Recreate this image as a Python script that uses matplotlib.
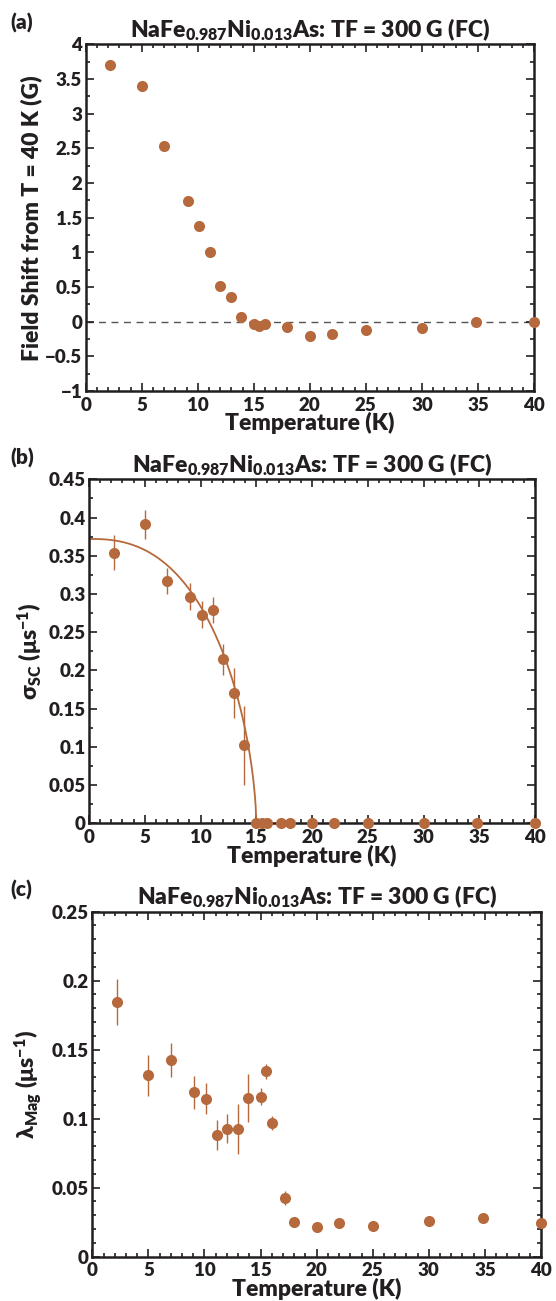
import matplotlib
matplotlib.use("Agg")
import matplotlib.pyplot as plt
import numpy as np
from matplotlib.ticker import MultipleLocator

# temperature points (K)
temp_a = [2.2, 5.0, 7.0, 9.1, 10.1, 11.1, 12.0, 13.0, 13.9, 15.0, 15.5, 16.0,
          18.0, 20.0, 22.0, 25.0, 30.0, 34.8, 40.0]
temp_bc = [2.2, 5.0, 7.0, 9.1, 10.1, 11.1, 12.0, 13.0, 13.9, 15.0, 15.5, 16.0,
           17.2, 18.0, 20.0, 22.0, 25.0, 30.0, 34.8, 40.0]

# (a) field shift relative to T = 40 K (G)
field_shift = [3.70, 3.40, 2.53, 1.74, 1.385, 1.00, 0.52, 0.35, 0.065, -0.04, -0.06,
               -0.04, -0.08, -0.20, -0.18, -0.12, -0.09, 0.0, 0.0]

# (b) superconducting relaxation rate (us^-1)
sigma_sc = [0.354, 0.391, 0.317, 0.2965, 0.273, 0.279, 0.2145, 0.170, 0.102,
            0, 0, 0, 0, 0, 0, 0, 0, 0, 0, 0]
sigma_err = [0.023, 0.019, 0.0175, 0.0175, 0.018, 0.0166, 0.020, 0.0325, 0.052,
             0, 0, 0, 0, 0, 0, 0, 0, 0, 0, 0]
# fit parameters: sigma0 * (1 - (T/Tc)^alpha)^beta
sigma0, tc, alpha, beta = 0.372, 15.0, 2.5, 0.6

# (c) magnetic relaxation rate (us^-1)
lambda_mag = [0.1846, 0.1314, 0.1423, 0.119, 0.1145, 0.0882, 0.0928, 0.0925, 0.115,
              0.116, 0.1343, 0.0967, 0.0423, 0.0249, 0.0217, 0.0242, 0.0225, 0.0259,
              0.0283, 0.0242]
lambda_err = [0.0167, 0.015, 0.0123, 0.012, 0.0115, 0.011, 0.0103, 0.018, 0.0175,
              0.006, 0.0055, 0.005, 0.005, 0.002, 0.002, 0.002, 0.002, 0.002, 0.002,
              0.002]

brown = "#b5693c"
ink = "#231f20"
plt.rcParams["font.family"] = ["Lato", "DejaVu Sans"]
plt.rcParams["font.weight"] = "heavy"
plt.rcParams["mathtext.fontset"] = "custom"
plt.rcParams["mathtext.rm"] = "Lato:heavy"
plt.rcParams["mathtext.it"] = "Lato:heavy"
plt.rcParams["mathtext.bf"] = "Lato:heavy"
plt.rcParams["mathtext.default"] = "rm"

title = r"NaFe$_{0.987}$Ni$_{0.013}$As: TF = 300 G (FC)"

fig = plt.figure(figsize=(5.56, 13.01), dpi=100)
ax_a = fig.add_axes([0.1541, 0.6995, 0.8063, 0.2663])
ax_b = fig.add_axes([0.1601, 0.3672, 0.8022, 0.2644])
ax_c = fig.add_axes([0.1660, 0.0341, 0.8070, 0.2652])


def style(ax, ymin, ymax, ymajor, yminor):
    ax.set_xlim(0, 40)
    ax.set_ylim(ymin, ymax)
    ax.xaxis.set_major_locator(MultipleLocator(5))
    ax.xaxis.set_minor_locator(MultipleLocator(1))
    ax.yaxis.set_major_locator(MultipleLocator(ymajor))
    ax.yaxis.set_minor_locator(MultipleLocator(yminor))
    ax.tick_params(which="both", direction="in", top=True, right=True, labelsize=13.5,
                   colors=ink)
    ax.tick_params(which="major", length=6, width=1.2)
    ax.tick_params(which="minor", length=3, width=1.2)
    ax.tick_params(axis="x", pad=4.2)
    ax.tick_params(axis="y", pad=2.5)
    for sp in ax.spines.values():
        sp.set_linewidth(1.8)
        sp.set_color(ink)
    ax.set_xlabel("Temperature (K)", fontsize=16.5, fontweight="heavy", labelpad=-1,
                  color=ink)
    ax.set_title(title, fontsize=16.5, fontweight="heavy", pad=5, color=ink)


# (a)
style(ax_a, -1, 4, 0.5, 0.25)
ax_a.axhline(0, color="#555555", lw=1, ls=(0, (5, 4)), zorder=1)
ax_a.plot(temp_a, field_shift, "o", color=brown, ms=8, mec="none", clip_on=False, zorder=3)
ax_a.set_yticks(np.arange(-1, 4.01, 0.5))
ax_a.set_yticklabels(["\u22121", "\u22120.5", "0", "0.5", "1", "1.5", "2", "2.5", "3", "3.5", "4"])
ax_a.set_ylabel("Field Shift from T = 40 K (G)", fontsize=16.5, fontweight="heavy",
                color=ink)
ax_a.yaxis.set_label_coords(-0.098, 0.5)

# (b)
style(ax_b, 0, 0.45, 0.05, 0.025)
ax_b.set_yticks(np.arange(0, 0.451, 0.05))
ax_b.set_yticklabels(["0", "0.05", "0.1", "0.15", "0.2", "0.25", "0.3", "0.35", "0.4", "0.45"])
t_fit = np.linspace(0, tc, 300)
s_fit = sigma0 * (1 - (t_fit / tc) ** alpha) ** beta
ax_b.plot(t_fit, s_fit, color=brown, lw=1.3, zorder=2)
ax_b.errorbar(temp_bc, sigma_sc, yerr=sigma_err, fmt="o", color=brown, ms=8, mec="none",
              ecolor=brown, elinewidth=1, capsize=0, clip_on=False, zorder=3)
ax_b.set_ylabel(r"$\sigma_{SC}$ ($\mu$s$^{-1}$)", fontsize=16.5, fontweight="heavy",
                color=ink)
ax_b.yaxis.set_label_coords(-0.10, 0.5)

# (c)
style(ax_c, 0, 0.25, 0.05, 0.01)
ax_c.set_yticks(np.arange(0, 0.251, 0.05))
ax_c.set_yticklabels(["0", "0.05", "0.1", "0.15", "0.2", "0.25"])
ax_c.errorbar(temp_bc, lambda_mag, yerr=lambda_err, fmt="o", color=brown, ms=8, mec="none",
              ecolor=brown, elinewidth=1, capsize=0, clip_on=False, zorder=3)
ax_c.set_ylabel(r"$\lambda_{Mag}$ ($\mu$s$^{-1}$)", fontsize=16.5, fontweight="heavy",
                color=ink)
ax_c.yaxis.set_label_coords(-0.108, 0.5)

for label, ax in (("(a)", ax_a), ("(b)", ax_b), ("(c)", ax_c)):
    pos = ax.get_position()
    fig.text(0.018, pos.y1 + 0.0115, label, fontsize=15, fontweight="heavy",
             color=ink, ha="left", va="baseline")

fig.savefig("out.png", dpi=100)
